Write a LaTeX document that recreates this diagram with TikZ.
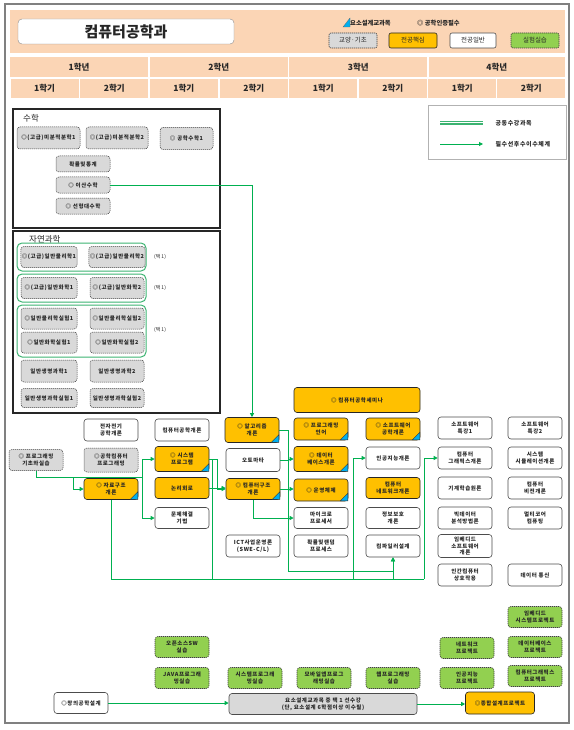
\documentclass[tikz,border=0pt]{standalone}
\usepackage{fontspec}
\setmainfont{Noto Sans CJK KR}
\newfontfamily\nf[LetterSpace=10]{Noto Sans CJK KR}
\usetikzlibrary{arrows.meta}
\definecolor{peach}{HTML}{FBD5B5}
\definecolor{corey}{HTML}{FFC000}
\definecolor{graybg}{HTML}{D9D9D9}
\definecolor{greenbg}{HTML}{92D050}
\definecolor{lg}{HTML}{00B050}
\definecolor{grp}{HTML}{3CB371}
\definecolor{triblue}{HTML}{00B0F0}
\definecolor{txt}{HTML}{262626}
\newcommand\mytri[1]{\filldraw[fill=triblue, draw=black!80, line width=0.4pt] ([shift={(-8pt,0.4pt)}]#1.south east) -- ([shift={(-0.4pt,0.4pt)}]#1.south east) -- ([shift={(-0.4pt,8pt)}]#1.south east) -- cycle;}
\begin{document}
\begin{tikzpicture}[x=1pt,y=-1pt,
 base/.style={rounded corners=3pt, minimum width=54pt, minimum height=22pt, inner sep=1pt, align=center, font=\nf\bfseries\fontsize{5.5}{6.8}\selectfont, text=txt},
 gen/.style={base, draw=black!70, fill=white, line width=0.6pt},
 core/.style={base, draw=black!85, fill=corey, line width=0.6pt},
 basic/.style={base, draw=black!75, fill=graybg, dash pattern=on 1.2pt off 0.8pt, line width=0.5pt},
 labx/.style={base, draw=black!75, fill=greenbg, dash pattern=on 1.2pt off 0.8pt, line width=0.6pt},
 cell/.style={fill=peach, inner sep=0pt, font=\bfseries\fontsize{8.5}{10}\selectfont, text=txt},
 arr/.style={draw=lg, line width=0.9pt, -{Triangle[length=4pt,width=4pt]}},
 ln/.style={draw=lg, line width=0.9pt},
 grpbox/.style={draw=grp, line width=1pt, rounded corners=5pt},
 sel/.style={font=\fontsize{5}{6}\selectfont, text=txt},
 hd/.style={font=\fontsize{8.5}{10}\selectfont, text=txt, anchor=west, inner sep=0pt},
 leg/.style={rounded corners=2pt, minimum width=48pt, minimum height=15pt, inner sep=0pt, font=\fontsize{6.5}{8}\selectfont, text=txt, line width=0.6pt}
]
\useasboundingbox (0,0) rectangle (573,730);
% frame
\draw[black!50, line width=2pt] (5,4) rectangle (569,723);
% header
\fill[peach] (10,10) rectangle (565,53);
\node[draw=black!45, fill=white, rounded corners=4pt, minimum width=216pt, minimum height=25pt, font=\bfseries\fontsize{15}{18}\selectfont, text=txt] (title) at (126,31.5) {컴퓨터공학과};
\filldraw[fill=triblue, draw=black!60, line width=0.3pt] (343,27) -- (350,27) -- (350,18) -- cycle;
\node[font=\bfseries\fontsize{6.3}{7}\selectfont, text=txt, anchor=west, inner sep=0pt] (lgtri) at (350,23) {요소설계교과목};
\node[font=\bfseries\fontsize{6.3}{7}\selectfont, text=txt, anchor=west, inner sep=0pt] (lgcert) at (417,23) {◎ 공학인증필수};
\node[leg, draw=black!75, fill=graybg, dash pattern=on 1.2pt off 0.8pt] (lg1) at (353,40.5) {교양·기초};
\node[leg, draw=black!85, fill=corey] (lg2) at (413,40.5) {전공핵심};
\node[leg, draw=black!70, fill=white, minimum width=46pt] (lg3) at (473,40.5) {전공일반};
\node[leg, draw=black!75, fill=greenbg, dash pattern=on 1.2pt off 0.8pt] (lg4) at (535,40.5) {실험실습};
% year row
\node[cell, minimum width=138pt, minimum height=20pt] (yr1) at (79,67) {1학년};
\node[cell, minimum width=138pt, minimum height=20pt] (yr2) at (218.75,67) {2학년};
\node[cell, minimum width=138pt, minimum height=20pt] (yr3) at (358.25,67) {3학년};
\node[cell, minimum width=136.5pt, minimum height=20pt] (yr4) at (496.75,67) {4학년};
\foreach \cx/\nm [count=\i] in {44.5/1학기,114.25/2학기,183.75/1학기,253.75/2학기,323.25/1학기,392.75/2학기,462.25/1학기,531.25/2학기}
  \node[cell, minimum width=68pt, minimum height=19pt] (sm\i) at (\cx,88.5) {\nm};
% legend box
\node[draw=black!30, line width=0.8pt, minimum width=138pt, minimum height=54pt, inner sep=0pt] (legbox) at (497,132) {};
\coordinate (la) at (440,123); \coordinate (lb) at (483,123);
\draw[draw=grp, double=white, double distance=1pt, line width=1.2pt] (la) -- (lb);
\node[font=\nf\bfseries\fontsize{6}{7}\selectfont, text=txt, anchor=west] (legt1) at (492,123) {공동수강과목};
\coordinate (lc) at (440,144); \coordinate (ld) at (483,144);
\draw[arr] (lc) -- (ld);
\node[font=\nf\bfseries\fontsize{6}{7}\selectfont, text=txt, anchor=west] (legt2) at (492,144) {필수선후수이수체계};
% math box
\draw[black!85, line width=1.2pt] (13,109) rectangle (220,228);
\node[hd] (mlab) at (23,118) {수학};
\node[basic, minimum width=63pt] (m1) at (48.5,138) {◎(고급)미분적분학1};
\node[basic, minimum width=62pt] (m2) at (117,138) {◎(고급)미분적분학2};
\node[basic, minimum width=53pt] (m3) at (186.5,138.5) {◎ 공학수학1};
\node[basic, minimum height=16pt] (m4) at (83,164) {확률및통계};
\node[basic, minimum height=16pt] (m5) at (83,185) {◎ 이산수학};
\node[basic, minimum height=16pt] (m6) at (83,206) {◎ 선형대수학};
% nature box
\draw[black!85, line width=1.2pt] (13,231) rectangle (220,413);
\node[hd] (nlab) at (29,239) {자연과학};
\draw[grpbox] (17,243) rectangle (146,271);
\draw[grpbox] (17,274) rectangle (146,302);
\draw[grpbox] (17,305) rectangle (146,357);
\node[basic, minimum width=56pt, minimum height=21pt] (p1) at (49,257) {◎(고급)일반물리학1};
\node[basic, minimum width=54pt, minimum height=21pt] (p2) at (117,257) {◎(고급)일반물리학2};
\node[basic, minimum width=56pt, minimum height=21pt] (c1) at (49,288) {◎(고급)일반화학1};
\node[basic, minimum width=54pt, minimum height=21pt] (c2) at (117,288) {◎(고급)일반화학2};
\node[basic, minimum width=56pt, minimum height=21pt] (l1) at (49,318.5) {◎일반물리학실험1};
\node[basic, minimum width=54pt, minimum height=21pt] (l2) at (117,318.5) {◎일반물리학실험2};
\node[basic, minimum width=56pt, minimum height=21pt] (l3) at (49,342.5) {◎일반화학실험1};
\node[basic, minimum width=54pt, minimum height=21pt] (l4) at (117,342.5) {◎일반화학실험2};
\node[basic, minimum width=56pt] (b1) at (49,371) {일반생명과학1};
\node[basic, minimum width=54pt] (b2) at (117,371) {일반생명과학2};
\node[basic, minimum width=56pt, minimum height=19pt] (b3) at (49,398) {일반생명과학실험1};
\node[basic, minimum width=54pt, minimum height=19pt] (b4) at (117,398) {일반생명과학실험2};
\node[sel] (t1) at (160,257) {(택 1)};
\node[sel] (t2) at (160,288) {(택 1)};
\node[sel] (t3) at (160,330) {(택 1)};
% courses
\node[gen] (ee) at (111,430) {전자전기\\공학개론};
\node[gen] (cse) at (182,430) {컴퓨터공학개론};
\node[core, minimum height=25pt] (alg) at (252,430) {◎ 알고리즘\\개론}; \mytri{alg}
\node[basic, minimum height=21pt] (pbasic) at (36,460) {◎ 프로그래밍\\기초와실습};
\node[basic, minimum height=24pt] (ecp) at (111,460) {◎공학컴퓨터\\프로그래밍};
\node[core, minimum height=25pt] (sys) at (182,459) {◎ 시스템\\프로그램}; \mytri{sys}
\node[gen, minimum height=23pt] (auto) at (253,460) {오토마타};
\node[core, minimum height=21pt] (ds) at (111,489) {◎ 자료구조\\개론}; \mytri{ds}
\node[core, minimum height=21pt] (logic) at (182,488) {논리회로};
\node[core, minimum height=21pt] (ca) at (253,489) {◎ 컴퓨터구조\\개론}; \mytri{ca}
\node[gen, minimum height=21pt] (ps) at (182,518) {문제해결\\기법};
\node[gen] (ict) at (253,546) {ICT사업운영론\\(SWE-C/L)};
\node[core, minimum width=126pt, minimum height=25pt] (sem) at (357,400) {◎ 컴퓨터공학세미나};
\node[core] (pl) at (321,429) {◎ 프로그래밍\\언어}; \mytri{pl}
\node[core] (se) at (393,429) {◎ 소프트웨어\\공학개론}; \mytri{se}
\node[core, minimum height=25pt] (db) at (321,459) {◎ 데이터\\베이스개론}; \mytri{db}
\node[gen] (ai) at (393,458) {인공지능개론};
\node[core] (os) at (321,490) {◎ 운영체제}; \mytri{os}
\node[core, minimum height=21pt] (net) at (393,488) {컴퓨터\\네트워크개론};
\node[gen, minimum height=21pt] (mp) at (321,518) {마이크로\\프로세서};
\node[gen, minimum height=21pt] (sec) at (393,518) {정보보호\\개론};
\node[gen] (prob) at (321,546) {확률및랜덤\\프로세스};
\node[gen] (comp) at (393,546) {컴파일러설계};
\node[gen] (sw1) at (465,428) {소프트웨어\\특강1};
\node[gen] (sw2) at (535,428) {소프트웨어\\특강2};
\node[gen] (gr) at (465,458) {컴퓨터\\그래픽스개론};
\node[gen] (sim) at (535,458) {시스템\\시뮬레이션개론};
\node[gen] (ml) at (465,488) {기계학습원론};
\node[gen] (cv) at (535,488) {컴퓨터\\비전개론};
\node[gen] (bd) at (465,518) {빅데이터\\분석방법론};
\node[gen] (mc) at (535,518) {멀티코어\\컴퓨팅};
\node[gen, minimum height=23pt] (emb) at (465,546) {임베디드\\소프트웨어\\개론};
\node[gen] (hci) at (465,575) {인간컴퓨터\\상호작용};
\node[gen] (dc) at (535,575) {데이터 통신};
% practice
\node[labx, minimum height=21pt] (oss) at (182,647) {오픈소스SW\\실습};
\node[labx, minimum height=21pt] (java) at (182,678) {JAVA프로그래\\밍실습};
\node[labx, minimum height=21pt] (sysp) at (255,678) {시스템프로그래\\밍실습};
\node[labx, minimum height=21pt] (mob) at (324,678) {모바일앱프로그\\래밍실습};
\node[labx, minimum height=21pt] (web) at (393,678) {웹프로그래밍\\실습};
\node[labx, minimum height=21pt] (netp) at (467,648) {네트워크\\프로젝트};
\node[labx, minimum height=21pt] (aip) at (467,678) {인공지능\\프로젝트};
\node[labx, minimum height=21pt] (embp) at (535,617) {임베디드\\시스템프로젝트};
\node[labx, minimum height=21pt] (dbp) at (535,647) {데이터베이스\\프로젝트};
\node[labx, minimum height=21pt] (cgp) at (535,676) {컴퓨터그래픽스\\프로젝트};
\node[gen, minimum height=21pt] (cre) at (81,703) {◎창의공학설계};
\node[base, draw=black!70, fill=graybg, line width=0.6pt, minimum width=188pt, minimum height=21pt] (req) at (323,704) {요소설계교과목 중 택 1 선수강\\(단, 요소설계 6학점이상 이수필)};
\node[core, minimum width=69pt] (cap) at (500,703) {◎종합설계프로젝트};
% connectors
\draw[arr] (m5.east) -| (alg.north);
\coordinate (j0) at (36,477); \coordinate (j1) at (73,477); \coordinate (j2) at (142,477);
\draw[ln] (pbasic.south) -- (j0) -- (j2);
\draw[arr] (j1) |- (ds.west);
\draw[arr] (j2) |- (sys.west);
\draw[arr] (j2) |- (ps.west);
\coordinate (s1) at (217,459); \coordinate (s2) at (212,459); \coordinate (s3) at (212,579);
\draw[arr] (sys.east) -- (s1) |- (ca.west);
\draw[ln] (s2) -- (s3);
\draw[arr] (logic.east) -- (logic.east -| ca.west);
\coordinate (a1) at (288,430); \coordinate (a2) at (288,571);
\draw[arr] (alg.east) -- (a1) |- (db.west);
\draw[arr] (auto.east) -| (a2) -| (comp.south);
\draw[arr] (ca.east) -- (ca.east -| os.west);
\draw[arr] (ca.south) |- (mp.west);
\coordinate (d1) at (111,579); \coordinate (d2) at (424,579); \coordinate (d3) at (353,579); \coordinate (d4) at (393,579);
\draw[ln] (ds.south) -- (d1) -- (d2);
\draw[arr] (d2) |- (gr.west);
\draw[arr] (d3) |- (ai.west);
\draw[arr] (d4) -- (comp.south);
\draw[arr] (cre.east) -- (cre.east -| req.west);
\draw[arr] (req.east) -- (req.east -| cap.west);
\end{tikzpicture}
\end{document}
